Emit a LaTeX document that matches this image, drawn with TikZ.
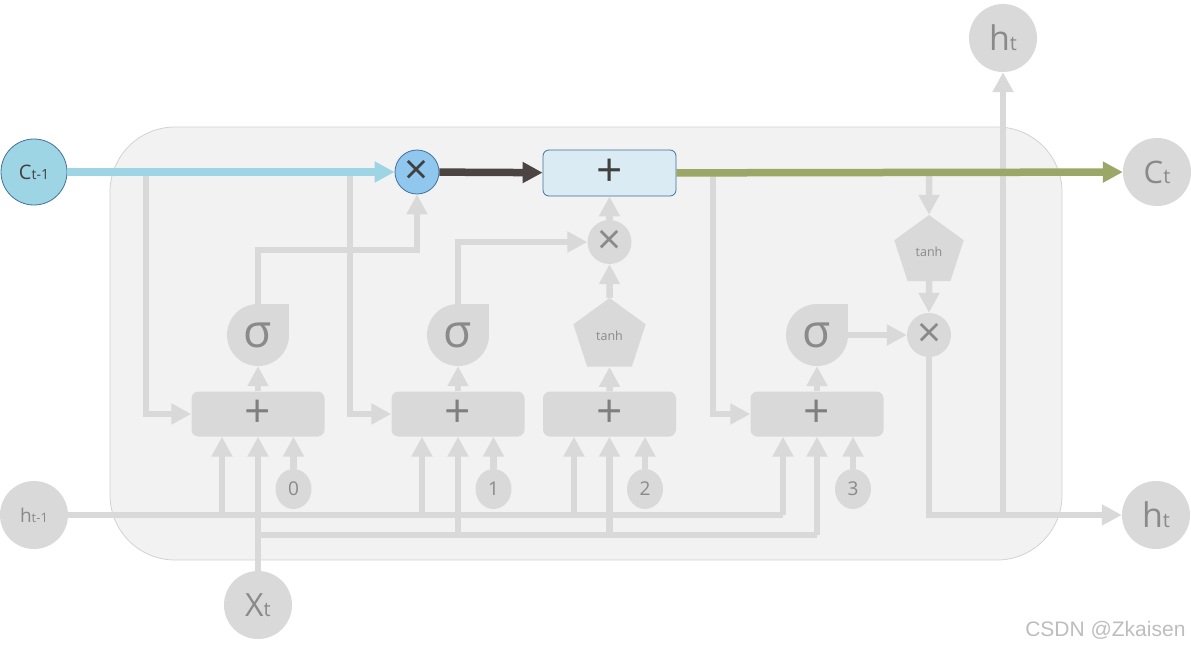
\documentclass[tikz,border=0pt]{standalone}
\usepackage{fontspec}
\setmainfont{Open Sans}
\newfontfamily\wmfont{Liberation Sans}
\usetikzlibrary{arrows.meta,shapes.geometric,calc}
\definecolor{lgray}{HTML}{D9D9D9}
\definecolor{tgray}{HTML}{8A8A8A}
\definecolor{pgray}{HTML}{7F7F7F}
\definecolor{bgfill}{HTML}{F2F2F2}
\definecolor{bgline}{HTML}{D2D2D2}
\definecolor{cblue}{HTML}{9ED5E5}
\definecolor{mblue}{HTML}{8FC7EE}
\definecolor{bdark}{HTML}{41719C}
\definecolor{tfill}{HTML}{DAEBF3}
\definecolor{dline}{HTML}{4B4442}
\definecolor{gline}{HTML}{9AA766}
\definecolor{dtext}{HTML}{404040}
\definecolor{wmgray}{HTML}{BDBDBD}
\tikzset{
  tip/.style={-{Triangle[length=20pt,width=20pt]}},
  grayline/.style={draw=lgray, line width=6.5pt},
  garr/.style={grayline, tip},
  circ/.style={circle, fill=lgray, minimum size=68pt, inner sep=0pt, text=tgray},
  gbox/.style={rectangle, rounded corners=7pt, fill=lgray, minimum width=133pt, minimum height=45pt, inner sep=0pt, text=pgray, font=\fontsize{46}{46}\selectfont},
  sig/.style={circle, fill=lgray, minimum size=62pt, inner sep=0pt, text=tgray, font=\fontsize{46}{46}\selectfont},
  pent/.style={regular polygon, regular polygon sides=5, fill=lgray, minimum size=76pt, inner sep=0pt, text=tgray, font=\fontsize{12.5}{12.5}\selectfont},
  mult/.style={circle, fill=lgray, minimum size=44pt, inner sep=0pt, text=tgray, font=\fontsize{42}{42}\selectfont},
  num/.style={ellipse, fill=lgray, minimum width=36pt, minimum height=40pt, inner sep=0pt, text=tgray, font=\fontsize{19}{19}\selectfont},
  mainline/.style={line width=7.5pt, tip}
}
\begin{document}
\begin{tikzpicture}[x=1pt,y=-1pt]
\useasboundingbox (0,0) rectangle (1191,650);
% background panel
\node[draw=bgline, fill=bgfill, rounded corners=65pt, line width=0.8pt, minimum width=952pt, minimum height=433pt, inner sep=0pt] (bg) at (586,343.5) {};

% outer nodes
\node[circle, fill=cblue, draw=bdark, line width=0.8pt, minimum size=66pt, inner sep=0pt, text=dtext] (c0) at (34,172) {\fontsize{20}{20}\selectfont C\fontsize{14}{14}\selectfont t-1};
\node[circle, fill=mblue, draw=bdark, line width=0.8pt, minimum size=44pt, inner sep=0pt, text=dtext, font=\fontsize{42}{42}\selectfont] (m0) at (417,172) {×};
\node[rectangle, rounded corners=6pt, fill=tfill, draw=bdark, line width=0.8pt, minimum width=133pt, minimum height=46pt, inner sep=0pt, text=dtext, font=\fontsize{46}{46}\selectfont] (top) at (609.5,173) {+};
\node[circ] (ct) at (1157,172) {\fontsize{31}{31}\selectfont C\fontsize{20}{20}\selectfont t};
\node[circ] (htop) at (1003,38) {\fontsize{34}{34}\selectfont h\fontsize{20}{20}\selectfont t};
\node[circ] (hr) at (1156,515) {\fontsize{34}{34}\selectfont h\fontsize{20}{20}\selectfont t};
\node[circ] (hprev) at (34,515) {\fontsize{19}{19}\selectfont h\fontsize{13}{13}\selectfont t-1};
\node[circ] (xt) at (258,605) {\fontsize{32}{32}\selectfont X\fontsize{20}{20}\selectfont t};

% gate boxes
\node[gbox] (b0) at (258,414) {+};
\node[gbox] (b1) at (458,414) {+};
\node[gbox] (b2) at (609.5,414) {+};
\node[gbox] (b3) at (817,414) {+};

% sigma teardrops
\fill[lgray] (258,304) rectangle (289,335);
\node[sig] (s0) at (258,335) {σ};
\fill[lgray] (458,304) rectangle (489,335);
\node[sig] (s1) at (458,335) {σ};
\fill[lgray] (817,304) rectangle (848,335);
\node[sig] (s3) at (817,335) {σ};

% tanh pentagons
\node[pent] (p1) at (609.5,336) {tanh};
\node[pent, minimum size=73pt] (p2) at (929,251.5) {tanh};

% multiply circles
\node[mult] (m1) at (609.5,242) {×};
\node[mult] (m2) at (929,335) {×};

% bias numbers
\node[num] (n0) at (293.5,489) {0};
\node[num] (n1) at (493.5,489) {1};
\node[num] (n2) at (645,489) {2};
\node[num] (n3) at (853,489) {3};

% watermark
\node[font=\wmfont\fontsize{21}{21}\selectfont, text=wmgray, anchor=east] (wm) at (1189,630) {CSDN @Zkaisen};

% junction coordinates
\coordinate (j0) at (146,172);
\coordinate (j1) at (350,172);
\coordinate (j2) at (713,172);
\coordinate (j3) at (929,172);
\coordinate (j4) at (1003,515);
\coordinate (h0) at (222,515);
\coordinate (h1) at (422,515);
\coordinate (h2) at (574,515);
\coordinate (h3) at (783,515);
\coordinate (xj) at (258,535);
\coordinate (x3) at (817,535);

% gray connectors
\draw[garr] (j0) |- (b0.west);
\draw[garr] (j1) |- (b1.west);
\draw[garr] (j2) |- (b3.west);
\draw[garr] (j3) -- (p2.north);
\draw[garr] (p2.south) -- (m2.north);
\draw[garr] (s0.north) -- ++(0,-54) -| (m0.south);
\draw[garr] (s1.north) |- (m1.west);
\draw[garr] (p1.north) -- (m1.south);
\draw[garr] (m1.north) -- (top.south);
\draw[garr] (b0.north) -- (s0.south);
\draw[garr] (b1.north) -- (s1.south);
\draw[garr] (b2.north) -- (p1.south);
\draw[garr] (b3.north) -- (s3.south);
\draw[garr] (s3.east) -- (m2.west);
\draw[garr] (m2.south) |- (hr.west);
\draw[garr] (j4) -- (htop.south);

% h_{t-1} distribution
\draw[grayline] (hprev.east) -- (h3);
\draw[garr] (h3) -- (h3 |- b3.south);
\draw[garr] (h0) -- (h0 |- b0.south);
\draw[garr] (h1) -- (h1 |- b1.south);
\draw[garr] (h2) -- (h2 |- b2.south);

% x_t distribution
\draw[garr] (xt.north) -- (b0.south);
\draw[grayline] (xj) -- (x3);
\draw[garr] (x3) -- (b3.south);
\draw[garr] (b1.south |- xj) -- (b1.south);
\draw[garr] (b2.south |- xj) -- (b2.south);

% bias inputs
\draw[garr] (n0.north) -- (n0.north |- b0.south);
\draw[garr] (n1.north) -- (n1.north |- b1.south);
\draw[garr] (n2.north) -- (n2.north |- b2.south);
\draw[garr] (n3.north) -- (n3.north |- b3.south);

% cell state line
\draw[mainline, draw=cblue, fill=cblue] (c0) -- (m0);
\draw[mainline, draw=dline, fill=dline] (m0) -- (top);
\draw[mainline, draw=gline, fill=gline] (top) -- (ct);
\end{tikzpicture}
\end{document}
